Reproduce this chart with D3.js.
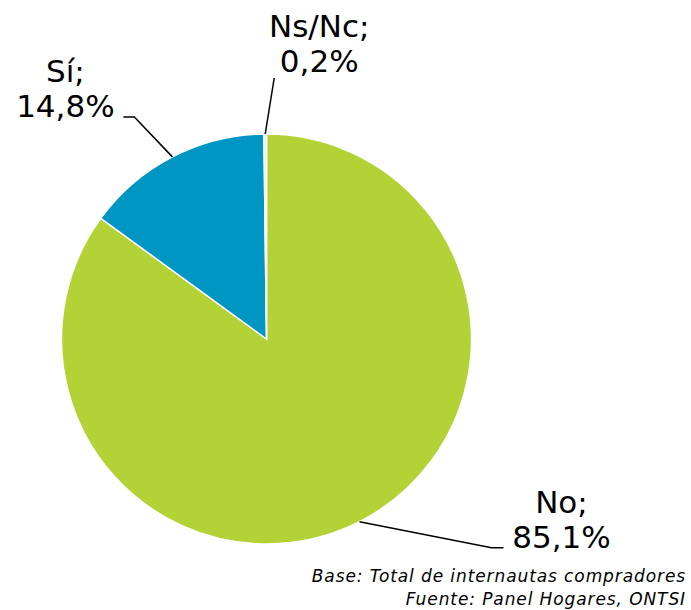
<!DOCTYPE html>
<html>
<head>
<meta charset="utf-8">
<script src="https://cdn.jsdelivr.net/npm/d3@7"></script>
<style>
  body { margin: 0; background: #fff; }
  svg { display: block; }
  .lbl { font-family: "DejaVu Sans", Verdana, sans-serif; font-size: 31px; fill: #000; }
  .note { font-family: "DejaVu Sans", Verdana, sans-serif; font-size: 17px; font-style: italic; letter-spacing: 0.9px; fill: #000; }
</style>
</head>
<body>
<script>
// datos del grafico
var categories = ['No', 'Sí', 'Ns/Nc'];
var values = [85.1, 14.8, 0.2];
var labels = ['85,1%', '14,8%', '0,2%'];
var colors = ['#b3d235', '#0096c3', '#e6f2f5'];
var notes = ['Base: Total de internautas compradores', 'Fuente: Panel Hogares, ONTSI'];

var W = 691, H = 610;
var cx = 266.5, cy = 339, r = 205;

var svg = d3.select('body').append('svg')
  .attr('width', W)
  .attr('height', H);

var data = categories.map(function(c, i) {
  return {cat: c, value: values[i], label: labels[i], color: colors[i]};
});

var pie = d3.pie().sort(null).value(function(d) { return d.value; });
var arc = d3.arc().innerRadius(0).outerRadius(r);
var arcs = pie(data);

var g = svg.append('g').attr('transform', 'translate(' + cx + ',' + cy + ')');

g.selectAll('path.slice')
  .data(arcs)
  .enter().append('path')
  .attr('class', 'slice')
  .attr('d', arc)
  .attr('fill', function(d) { return d.data.color; })
  .attr('stroke', '#fff')
  .attr('stroke-width', 1.5);

// lineas guia y etiquetas (desplazamientos relativos al punto del arco)
var layout = {
  'No':    {elbow: [132, 26], end: [144, 26], text: [202, -9], anchor: 'middle'},
  'Sí':    {elbow: [-38, -40], end: [-49, -40], text: [-107, -75], anchor: 'middle'},
  'Ns/Nc': {elbow: [9, -56], end: [9, -56], text: [54, -97], anchor: 'middle'}
};

arcs.forEach(function(a) {
  var mid = (a.startAngle + a.endAngle) / 2;
  var px = r * Math.sin(mid), py = -r * Math.cos(mid);
  var L = layout[a.data.cat];
  var pts = [[px, py], [px + L.elbow[0], py + L.elbow[1]], [px + L.end[0], py + L.end[1]]];
  g.append('path')
    .attr('d', d3.line()(pts))
    .attr('fill', 'none')
    .attr('stroke', '#000')
    .attr('stroke-width', 1.5);
  var t = g.append('text')
    .attr('class', 'lbl')
    .attr('text-anchor', L.anchor)
    .attr('x', px + L.text[0])
    .attr('y', py + L.text[1]);
  t.append('tspan').attr('x', px + L.text[0]).text(a.data.cat + ';');
  t.append('tspan').attr('x', px + L.text[0]).attr('dy', 35).text(a.data.label);
});

svg.selectAll('text.note')
  .data(notes)
  .enter().append('text')
  .attr('class', 'note')
  .attr('text-anchor', 'end')
  .attr('x', 686)
  .attr('y', function(d, i) { return 582 + i * 23; })
  .text(function(d) { return d; });
</script>
</body>
</html>
